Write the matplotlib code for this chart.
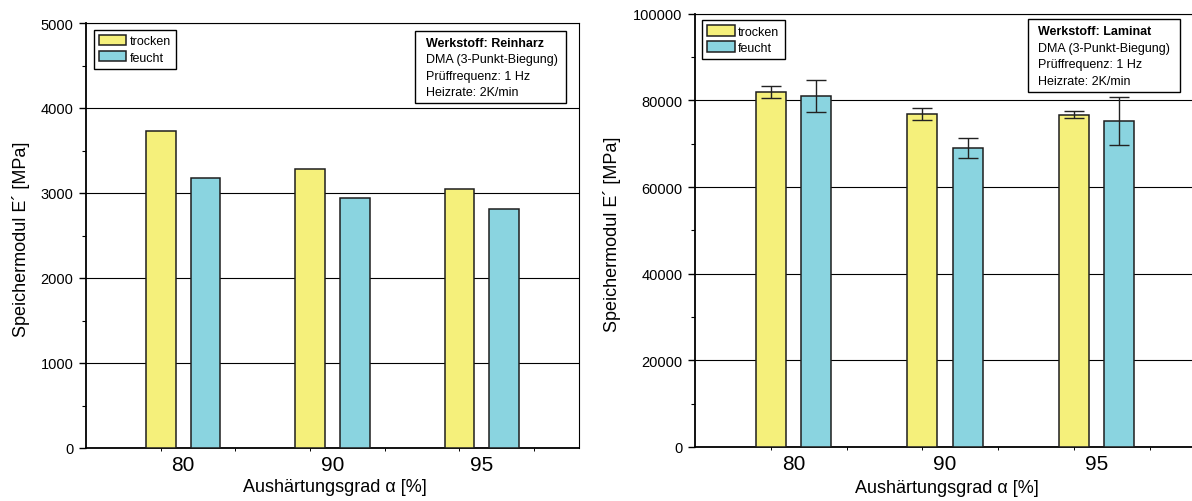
import numpy as np
import matplotlib
matplotlib.use('Agg')
import matplotlib.pyplot as plt
from matplotlib.patches import Rectangle

plt.rcParams['font.family'] = ['Liberation Sans', 'DejaVu Sans']

# Storage modulus E' of resin and laminate, dry vs. wet conditioned
categories = ['80', '90', '95']
series_labels = ['trocken', 'feucht']

reinharz_trocken = [3725, 3280, 3045]
reinharz_feucht = [3175, 2945, 2815]

laminat_trocken = [82000, 76900, 76700]
laminat_feucht = [81100, 69000, 75200]
laminat_trocken_err = [1400, 1450, 770]
laminat_feucht_err = [3700, 2270, 5500]

col_trocken = '#f5f07b'
col_feucht = '#8ad4e0'
edge = '#1e1e1e'

ylabel = 'Speichermodul E\u00b4 [MPa]'
xlabel = 'Aushärtungsgrad \u03b1 [%]'

info_lines = ['DMA (3-Punkt-Biegung)', 'Prüffrequenz: 1 Hz', 'Heizrate: 2K/min']

fig = plt.figure(figsize=(11.92, 5.02), dpi=100)
ax1 = fig.add_axes([86 / 1192, 1 - 449 / 502, 493 / 1192, 425 / 502])
ax2 = fig.add_axes([695 / 1192, 1 - 448 / 502, 500 / 1192, 433.3 / 502])

x = np.arange(len(categories))
w = 0.2
off = 0.15


def style_axes(ax, ymax, ystep, yminor):
    ax.set_xlim(-0.65, 2.65)
    ax.set_ylim(0, ymax)
    ax.set_axisbelow(True)
    ax.set_yticks(np.arange(0, ymax + 1, ystep))
    ax.set_yticks(np.arange(0, ymax + 1, yminor), minor=True)
    ax.set_xticks(x)
    ax.set_xticklabels(categories)
    ax.set_xticks(np.arange(-0.15, 2.65, 0.5), minor=True)
    ax.tick_params(axis='y', which='major', direction='out', length=5, width=1.0,
                   labelsize=10.5, pad=4)
    ax.tick_params(axis='y', which='minor', direction='out', length=3, width=0.8)
    ax.tick_params(axis='x', which='major', length=0, labelsize=15, pad=5)
    ax.tick_params(axis='x', which='minor', direction='out', length=2, width=0.7)
    ax.grid(axis='y', which='major', color='black', linewidth=0.8)
    for s in ['left', 'bottom']:
        ax.spines[s].set_linewidth(1.3)
    for s in ['top', 'right']:
        ax.spines[s].set_linewidth(0.8)
    ax.set_ylabel(ylabel, fontsize=13)
    ax.set_xlabel(xlabel, fontsize=13, va='top')


def info_box(ax, title, x0, x1, y0, y1, tx, ys):
    ax.add_patch(Rectangle((x0, y0), x1 - x0, y1 - y0, transform=ax.transAxes,
                           facecolor='white', edgecolor='black', linewidth=1.0,
                           zorder=5, clip_on=False))
    ax.text(tx, ys[0], title, transform=ax.transAxes, fontsize=9,
            fontweight='bold', va='center', ha='left', zorder=6)
    for line, yy in zip(info_lines, ys[1:]):
        ax.text(tx, yy, line, transform=ax.transAxes, fontsize=9,
                va='center', ha='left', zorder=6)


def legend(ax, anchor):
    ax.legend(loc='upper left', bbox_to_anchor=anchor, fontsize=9,
              frameon=True, fancybox=False, framealpha=1, edgecolor='black',
              handlelength=2.2, handleheight=0.9, handletextpad=0.3,
              labelspacing=0.3, borderpad=0.4, borderaxespad=0)


# Reinharz
ax1.bar(x - off, reinharz_trocken, w, color=col_trocken, edgecolor=edge,
        linewidth=1.1, label=series_labels[0], zorder=3)
ax1.bar(x + off, reinharz_feucht, w, color=col_feucht, edgecolor=edge,
        linewidth=1.1, label=series_labels[1], zorder=3)
style_axes(ax1, 5000, 1000, 500)
ax1.yaxis.set_label_coords(-0.114, 0.493)
ax1.xaxis.set_label_coords(0.505, -0.07)
legend(ax1, (0.016, 0.984))
info_box(ax1, 'Werkstoff: Reinharz', 0.667, 0.974, 0.812, 0.981, 0.690,
         [0.953, 0.915, 0.875, 0.837])

# Laminat
ax2.bar(x - off, laminat_trocken, w, color=col_trocken, edgecolor=edge,
        linewidth=1.1, label=series_labels[0], zorder=3)
ax2.bar(x + off, laminat_feucht, w, color=col_feucht, edgecolor=edge,
        linewidth=1.1, label=series_labels[1], zorder=3)
ax2.errorbar(x - off, laminat_trocken, yerr=laminat_trocken_err, fmt='none',
             ecolor='#222222', elinewidth=1.0, capsize=7, capthick=1.0, zorder=4)
ax2.errorbar(x + off, laminat_feucht, yerr=laminat_feucht_err, fmt='none',
             ecolor='#222222', elinewidth=1.0, capsize=7, capthick=1.0, zorder=4)
style_axes(ax2, 100000, 20000, 10000)
ax2.yaxis.set_label_coords(-0.148, 0.494)
ax2.xaxis.set_label_coords(0.504, -0.074)
legend(ax2, (0.014, 0.985))
info_box(ax2, 'Werkstoff: Laminat', 0.665, 0.97, 0.819, 0.988, 0.686,
         [0.959, 0.920, 0.883, 0.845])

fig.savefig('out.png', dpi=100)
